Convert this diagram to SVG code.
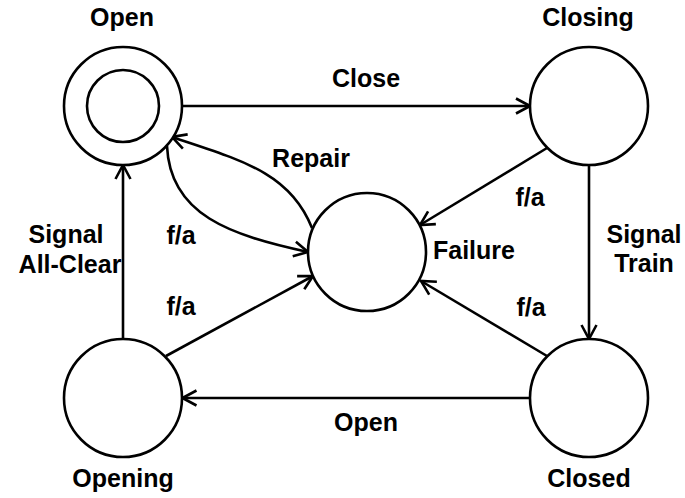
<svg xmlns="http://www.w3.org/2000/svg" width="685" height="498" viewBox="0 0 685 498">
<style>
.st{fill:#fff;stroke:#000;stroke-width:2.6}
.ln{fill:none;stroke:#000;stroke-width:2.6;marker-end:url(#ah)}
text{font-family:"Liberation Sans",Arial,sans-serif;font-weight:bold;font-size:25px;fill:#000;text-anchor:middle}
</style>
<defs>
<marker id="ah" markerUnits="userSpaceOnUse" viewBox="0 0 18 18" refX="16" refY="9" markerWidth="18" markerHeight="18" orient="auto">
<path d="M2,1.5 L16,9 L2,16.5" fill="none" stroke="#000" stroke-width="2.6"/>
</marker>
</defs>
<rect width="685" height="498" fill="#fff"/>
<g id="connectors">
<line class="ln" x1="182" y1="106" x2="530" y2="106"/>
<line class="ln" x1="547" y1="148" x2="420" y2="225"/>
<line class="ln" x1="589" y1="165" x2="589" y2="339"/>
<line class="ln" x1="547" y1="356" x2="421" y2="281"/>
<line class="ln" x1="530" y1="398" x2="182.5" y2="398"/>
<line class="ln" x1="123" y1="339" x2="123" y2="165"/>
<line class="ln" x1="166" y1="356" x2="313" y2="276"/>
<path class="ln" d="M167,146 C170,215 230,235 308,252"/>
<path class="ln" d="M312,228 C290,172 240,160 172,137"/>
<text x="366" y="87">Close</text>
<text x="311" y="167">Repair</text>
<text x="530" y="206">f/a</text>
<text x="181" y="244">f/a</text>
<text x="181" y="315">f/a</text>
<text x="531" y="316">f/a</text>
<text x="66" y="243">Signal</text>
<text x="70" y="273">All-Clear</text>
<text x="644" y="243">Signal</text>
<text x="644" y="272">Train</text>
<text x="366" y="431">Open</text>
</g>
<g id="open">
<circle class="st" cx="123" cy="106" r="59"/>
<circle class="st" cx="123" cy="106" r="36"/>
<text x="122" y="26">Open</text>
</g>
<g id="closing">
<circle class="st" cx="589" cy="106" r="59"/>
<text x="588" y="26">Closing</text>
</g>
<g id="failure">
<circle class="st" cx="367" cy="252" r="59"/>
<text x="474" y="259">Failure</text>
</g>
<g id="opening">
<circle class="st" cx="123" cy="398" r="59"/>
<text x="123" y="487">Opening</text>
</g>
<g id="closed">
<circle class="st" cx="589" cy="398" r="59"/>
<text x="589" y="487">Closed</text>
</g>
</svg>
